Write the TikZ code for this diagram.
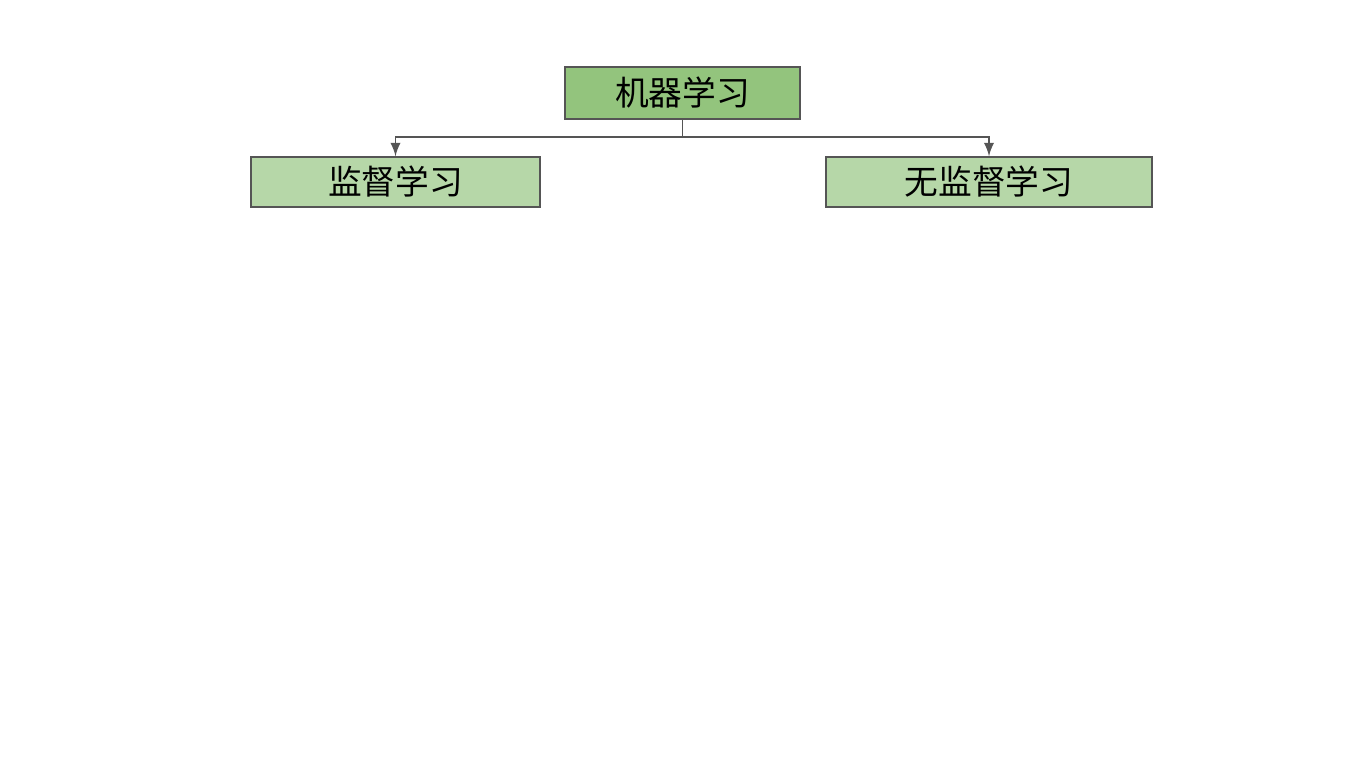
\documentclass[tikz,border=0pt]{standalone}
\usepackage{fontspec}
\newfontfamily\cjk{Noto Sans CJK SC}
\usepackage{tikz}
\usetikzlibrary{arrows}
\usetikzlibrary{positioning}
\definecolor{rootgreen}{HTML}{93C47D}
\definecolor{leafgreen}{HTML}{B6D7A8}
\definecolor{linegray}{HTML}{555555}

\begin{document}
\begin{tikzpicture}[thick, box/.style={draw=linegray, line width=0.4pt, minimum height=0.5cm, inner sep=0pt, font=\cjk\fontsize{9.6}{11}\selectfont}]
				\useasboundingbox (0, 0) rectangle (13.65, -7.68);
				\node[box, fill=rootgreen, minimum width=2.35cm, minimum height=0.52cm] (root) at (6.825, -0.93) {机器学习};
				\node[box, fill=leafgreen, minimum width=2.89cm] (sup) at (3.955, -1.82) {监督学习};
				\node[box, fill=leafgreen, minimum width=3.26cm] (unsup) at (9.89, -1.82) {无监督学习};

				\coordinate (split) at (6.825, -1.37);
				\draw[color=linegray, line width=0.35pt] (root.south) -- (split);
				\draw[-latex, color=linegray, line width=0.35pt] (split) -| (sup.north);
				\draw[-latex, color=linegray, line width=0.35pt] (split) -| (unsup.north);
			\end{tikzpicture}
\end{document}
